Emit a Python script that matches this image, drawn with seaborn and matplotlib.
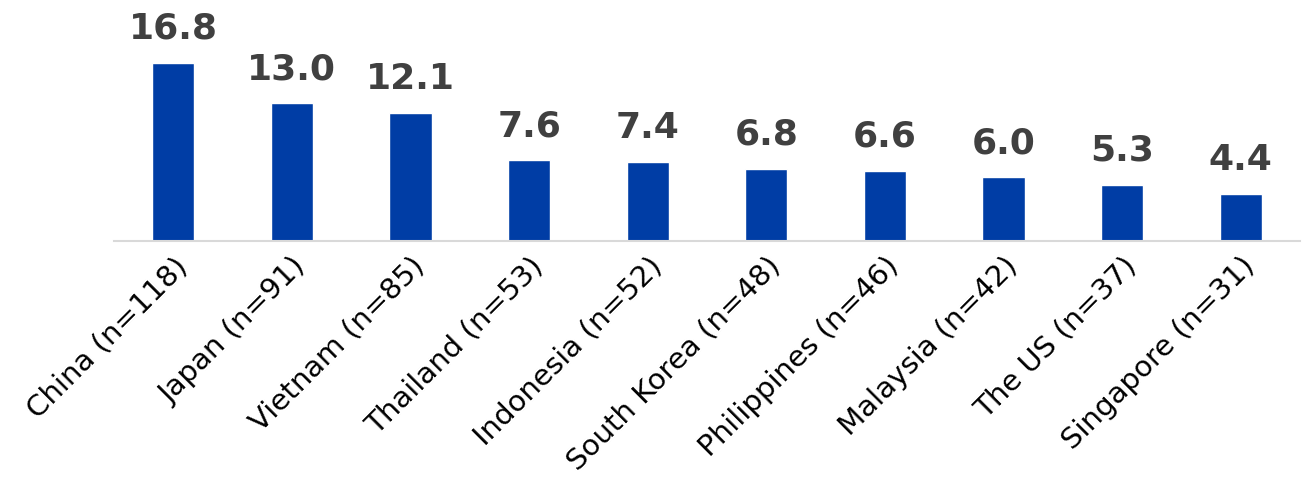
import matplotlib
matplotlib.use("Agg")
import matplotlib.pyplot as plt
import seaborn as sns
import pandas as pd

countries = ["China (n=118)", "Japan (n=91)", "Vietnam (n=85)", "Thailand (n=53)",
             "Indonesia (n=52)", "South Korea (n=48)", "Philippines (n=46)",
             "Malaysia (n=42)", "The US (n=37)", "Singapore (n=31)"]
values = [16.8, 13.0, 12.1, 7.6, 7.4, 6.8, 6.6, 6.0, 5.3, 4.4]

sns.set_theme(style="white")
plt.rcParams['font.family'] = ['DejaVu Sans']

df = pd.DataFrame({"country": countries, "value": values})

fig = plt.figure(figsize=(13.07, 4.86), dpi=100)
ax = fig.add_axes([0.0872, 0.504, 0.9075, 0.496])
sns.barplot(data=df, x="country", y="value", color="#003DA5", saturation=1,
            width=0.355, ax=ax)

for i, v in enumerate(values):
    ax.text(i, v + 1.6, f"{v:.1f}", ha="center", va="bottom", fontsize=26,
            fontweight="bold", color="#404040")

ax.set_ylim(0, 22.7)
ax.set_xlim(-0.5, 9.5)
ax.set_xlabel("")
ax.set_ylabel("")
ax.set_yticks([])
for s in ["top", "right", "left"]:
    ax.spines[s].set_visible(False)
ax.spines["bottom"].set_color("#D9D9D9")
ax.spines["bottom"].set_linewidth(1.5)
ax.tick_params(axis="x", length=0, pad=8)
ax.set_xticks(range(len(countries)))
ax.set_xticklabels(countries, rotation=45, ha="right", rotation_mode="anchor",
                   fontsize=21, color="black")

fig.savefig("out.png", dpi=100)
